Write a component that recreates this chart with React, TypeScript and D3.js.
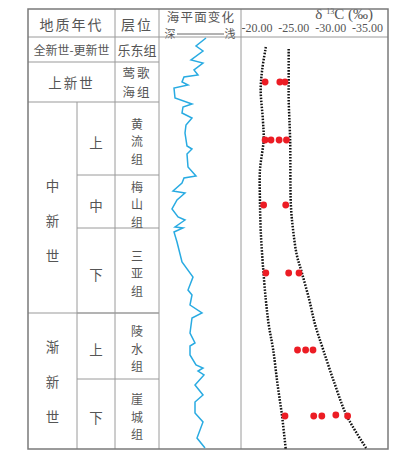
import * as d3 from 'd3';

// ---- data (depth in relative units, 0 = top of column) ----
const epochNames = ['全新世-更新世', '上新世', '中新世', '渐新世'];
const epochTops = [0, 12.5, 32.5, 138];
const epochBottoms = [12.5, 32.5, 138, 206];

const subEpochNames = ['上', '中', '下', '上', '下'];
const subEpochTops = [32.5, 69, 95.5, 138, 171];
const subEpochBottoms = [69, 95.5, 138, 171, 206];

const formationNames = ['乐东组', '莺歌海组', '黄流组', '梅山组', '三亚组', '陵水组', '崖城组'];
const formationTops = [0, 12.5, 32.5, 69, 95.5, 138, 171];
const formationBottoms = [12.5, 32.5, 69, 95.5, 138, 171, 206];

// relative sea level (0 = deep, 41 = shallow)
const seaDepth = [0.5, 4.5, 7, 11.5, 13, 16.5, 19, 20, 22.5, 24, 25.5, 30.5, 33.5, 35, 38, 40.5, 44, 48, 54.5, 56, 58.5, 65, 69.5, 70.5, 73, 77, 78, 81.5, 86, 90, 91.5, 95, 95.5, 97.5, 102.5, 112.5, 120, 126.5, 129, 134, 138, 140.5, 148, 153, 154.5, 159, 164, 165.5, 167, 169, 174, 179, 182.5, 188, 192.5, 200.5, 205.5];
const seaLevel = [23.5, 18.5, 22, 16, 22, 17.5, 19.5, 12.5, 11.5, 14.5, 7.5, 8, 16.5, 12, 11.5, 16.5, 13.5, 13, 14, 16.5, 14, 14.5, 18.5, 12.5, 11.5, 7, 13, 9, 6.5, 9.5, 13, 8, 12, 7.5, 9, 11.5, 17, 14.5, 16.5, 15.5, 21.5, 16.5, 15.5, 18, 15.5, 15.5, 18.5, 22, 19.5, 22.5, 18, 22, 18, 18, 22, 19, 23];

const deltaTicks = [-20, -25, -30, -35];

const envLeftDepth = [5, 16.5, 26.5, 41.5, 51.5, 66.5, 81.5, 96.5, 114, 131.5, 144, 156.5, 174, 189.5, 206];
const envLeftDelta = [-21.2, -20.7, -20.5, -20.8, -20.9, -20.4, -20.4, -20.5, -20.8, -21.2, -21.6, -22.2, -22.8, -23.4, -23.9];
const envRightDepth = [6, 22.5, 31.5, 51.5, 84, 96.5, 109, 118, 131.5, 144, 156.5, 174, 189.5, 206];
const envRightDelta = [-24.3, -24.3, -24.3, -24.5, -24.6, -24.9, -25.4, -26.1, -27.1, -27.9, -29.0, -30.6, -32.2, -34.9];

const sampleDepth = [22.5, 22.5, 22.5, 51.5, 51.5, 51.5, 51.5, 84, 84, 118, 118, 118, 156.5, 156.5, 156.5, 189.5, 189.5, 189.5, 189, 189.5];
const sampleDelta = [-21.1, -23.1, -23.8, -21.1, -21.9, -23.0, -24.0, -20.9, -23.9, -21.2, -24.3, -25.7, -25.5, -26.6, -27.6, -23.8, -27.7, -28.8, -30.7, -32.3];

// ---- layout ----
const W = 405;
const H = 453;
const left = 28;
const right = 388;
const top = 9;
const headBottom = 37;
const bottom = 449;
const colSub = 77;
const colEpoch = 115;
const colFm = 159;
const colSea = 241;

const cjk = '"Noto Sans CJK SC", "Noto Sans", sans-serif';
const serif = '"Liberation Serif", "DejaVu Serif", serif';
const textColor = '#555';
const lineColor = '#9a9a9a';

export default function App() {
  const y = d3.scaleLinear().domain([0, 206]).range([headBottom, bottom]);
  const xSea = d3.scaleLinear().domain([0, 41]).range([colFm, colSea]);
  const xDelta = d3.scaleLinear().domain([-20, -35]).range([257, 367.5]);

  const seaLine = d3.line<number>()
    .x((_, i) => xSea(seaLevel[i]))
    .y((d) => y(d));

  const envLine = (deltas: number[]) => d3.line<number>()
    .x((_, i) => xDelta(deltas[i]))
    .y((d) => y(d))
    .curve(d3.curveCatmullRom);

  // one character per line, stacked
  const vertChars = (text: string, cx: number, cy: number, step: number, size: number, key: string) => {
    const chars = text.split('');
    const start = cy - ((chars.length - 1) * step) / 2;
    return chars.map((c, i) => (
      <text key={key + i} x={cx} y={start + i * step} textAnchor="middle" dominantBaseline="central"
        fontFamily={cjk} fontSize={size} fill={textColor}>{c}</text>
    ));
  };

  return (
    <svg width={W} height={H} style={{ position: 'absolute', left: 0, top: 0, background: '#fff' }}>
      {/* header */}
      <text x={(left + colEpoch) / 2} y={24} textAnchor="middle" dominantBaseline="central"
        fontFamily={cjk} fontSize={14} letterSpacing={2} fill={textColor}>地质年代</text>
      <text x={(colEpoch + colFm) / 2} y={24} textAnchor="middle" dominantBaseline="central"
        fontFamily={cjk} fontSize={14} letterSpacing={2} fill={textColor}>层位</text>
      <text x={(colFm + colSea) / 2 + 1} y={16} textAnchor="middle" dominantBaseline="central"
        fontFamily={cjk} fontSize={12.5} letterSpacing={1.2} fill={textColor}>海平面变化</text>
      <text x={170} y={33} textAnchor="middle" dominantBaseline="central"
        fontFamily={cjk} fontSize={11} fill={textColor}>深</text>
      <line x1={177} x2={224} y1={34} y2={34} stroke="#666" strokeWidth={1} />
      <text x={230} y={33} textAnchor="middle" dominantBaseline="central"
        fontFamily={cjk} fontSize={11} fill={textColor}>浅</text>

      <text x={373} y={19} textAnchor="end" fontFamily={serif} fontSize={15} fill={textColor}>
        δ
        <tspan dx={4} dy={-5} fontSize={8}>13</tspan>
        <tspan dy={5}>C (‰)</tspan>
      </text>
      {deltaTicks.map((t) => (
        <text key={t} x={xDelta(t)} y={28} textAnchor="middle" dominantBaseline="central"
          fontFamily={serif} fontSize={12} fill={textColor}>{t.toFixed(2)}</text>
      ))}

      {/* table lines */}
      <line x1={left} x2={right} y1={headBottom} y2={headBottom} stroke={lineColor} strokeWidth={1} />
      {epochBottoms.slice(0, -1).map((b, i) => (
        <line key={'eb' + i} x1={left} x2={colFm} y1={y(b)} y2={y(b)} stroke={lineColor} strokeWidth={1.2} />
      ))}
      {subEpochBottoms.slice(0, -1).map((b, i) => (
        <line key={'sb' + i} x1={colSub} x2={colFm} y1={y(b)} y2={y(b)} stroke={lineColor} strokeWidth={1} />
      ))}
      <line x1={colSub} x2={colSub} y1={y(epochTops[2])} y2={bottom} stroke={lineColor} strokeWidth={1} />
      <line x1={colEpoch} x2={colEpoch} y1={top} y2={bottom} stroke={lineColor} strokeWidth={1} />
      <line x1={colFm} x2={colFm} y1={top} y2={bottom} stroke={lineColor} strokeWidth={1} />
      <line x1={colSea} x2={colSea} y1={top} y2={bottom} stroke={lineColor} strokeWidth={1} />
      <rect x={left} y={top} width={right - left} height={bottom - top} fill="none" stroke="#7a7a7a" strokeWidth={1.5} />

      {/* epochs */}
      {epochNames.map((name, i) => {
        const cy = (y(epochTops[i]) + y(epochBottoms[i])) / 2;
        if (i < 2) {
          return (
            <text key={'e' + i} x={(left + colEpoch) / 2} y={cy} textAnchor="middle" dominantBaseline="central"
              fontFamily={cjk} fontSize={i === 0 ? 12 : 13.5} letterSpacing={i === 0 ? 0 : 2} fill={textColor}>{name}</text>
          );
        }
        return vertChars(name, (left + colSub) / 2, cy + (i === 2 ? 12 : 0), 35, 13.5, 'e' + i);
      })}
      {subEpochNames.map((name, i) => (
        <text key={'s' + i} x={(colSub + colEpoch) / 2} y={(y(subEpochTops[i]) + y(subEpochBottoms[i])) / 2 + 3}
          textAnchor="middle" dominantBaseline="central" fontFamily={cjk} fontSize={13.5} fill={textColor}>{name}</text>
      ))}
      {formationNames.map((name, i) => {
        const cx = (colEpoch + colFm) / 2;
        const cy = (y(formationTops[i]) + y(formationBottoms[i])) / 2;
        if (i === 0) {
          return (
            <text key={'f' + i} x={cx} y={cy} textAnchor="middle" dominantBaseline="central"
              fontFamily={cjk} fontSize={13} fill={textColor}>{name}</text>
          );
        }
        if (name.length === 4) {
          return [name.slice(0, 2), name.slice(2)].map((part, j) => (
            <text key={'f' + i + j} x={cx} y={cy + (j - 0.5) * 19} textAnchor="middle" dominantBaseline="central"
              fontFamily={cjk} fontSize={12.5} letterSpacing={2} fill={textColor}>{part}</text>
          ));
        }
        return vertChars(name, cx, cy + 2, 17.5, 12, 'f' + i);
      })}

      {/* sea level curve */}
      <path d={seaLine(seaDepth) ?? ''} fill="none" stroke="#29abe2" strokeWidth={1.5} strokeLinejoin="miter" />

      {/* delta 13C envelope */}
      <path d={envLine(envLeftDelta)(envLeftDepth) ?? ''} fill="none" stroke="#111" strokeWidth={2.5} strokeDasharray="1.6 1.4" />
      <path d={envLine(envRightDelta)(envRightDepth) ?? ''} fill="none" stroke="#111" strokeWidth={2.5} strokeDasharray="1.6 1.4" />

      {/* samples */}
      {sampleDelta.map((v, i) => (
        <circle key={'p' + i} cx={xDelta(v)} cy={y(sampleDepth[i])} r={3.4} fill="#ec1c24" />
      ))}
    </svg>
  );
}
